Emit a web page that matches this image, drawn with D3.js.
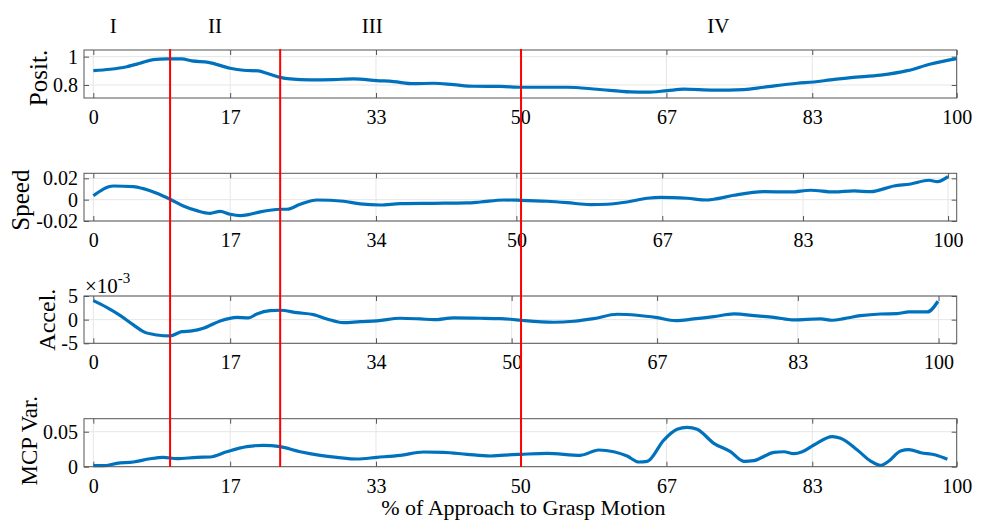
<!DOCTYPE html>
<html>
<head>
<meta charset="utf-8">
<script src="https://cdn.jsdelivr.net/npm/d3@7"></script>
<style>
  body { margin: 0; background: #fff; }
  text { font-family: "Liberation Serif", "Times New Roman", serif; fill: #000; }
</style>
</head>
<body>
<svg id="chart" width="985" height="520"></svg>
<script>
'use strict';

// ---- data (x in % of motion) ----
var posX = [0, 1.94, 3.87, 5.41, 6.95, 8.51, 10.25, 11.41, 13.33, 15.85, 17.39, 19.13, 20.10, 21.64, 22.80, 25.12, 27.82, 30.14, 32.85, 34.77, 37.09, 39.41, 41.73, 44.05, 47.14, 49.54, 54.87, 58.35, 62.21, 64.15, 66.47, 68.39, 71.87, 75.35, 77.66, 81.53, 83.46, 85.40, 87.75, 91.19, 94.28, 96.99, 100];
var posY = [0.901, 0.911, 0.929, 0.953, 0.979, 0.984, 0.984, 0.970, 0.960, 0.918, 0.904, 0.899, 0.883, 0.854, 0.843, 0.836, 0.838, 0.843, 0.831, 0.824, 0.809, 0.812, 0.802, 0.791, 0.790, 0.784, 0.784, 0.770, 0.751, 0.749, 0.760, 0.770, 0.763, 0.767, 0.784, 0.812, 0.821, 0.836, 0.852, 0.869, 0.901, 0.948, 0.986];

var speedX = [0, 2.32, 4.64, 5.80, 7.35, 8.89, 10.43, 11.99, 13.53, 14.69, 15.85, 17.00, 18.16, 19.32, 21.64, 22.42, 23.96, 25.90, 28.98, 30.91, 33.23, 35.55, 39.41, 43.28, 44.82, 47.53, 49.46, 52.56, 54.87, 57.57, 59.51, 61.83, 64.15, 65.69, 68.78, 71.10, 71.87, 74.19, 77.66, 80.76, 83.08, 85.78, 88.10, 90.03, 92.73, 94.67, 96.79, 97.76, 98.99];
var speedY = [0.0037, 0.0128, 0.0122, 0.0103, 0.0060, 0.0004, -0.0059, -0.0103, -0.0128, -0.0109, -0.0137, -0.0150, -0.0137, -0.0115, -0.0090, -0.0090, -0.0043, -0.0003, -0.0015, -0.0040, -0.0050, -0.0037, -0.0034, -0.0031, -0.0022, -0.0003, -0.0006, -0.0015, -0.0028, -0.0047, -0.0043, -0.0022, 0.0013, 0.0022, 0.0013, -0.0003, 0.0004, 0.0041, 0.0075, 0.0072, 0.0088, 0.0072, 0.0082, 0.0075, 0.0128, 0.0147, 0.0182, 0.0169, 0.0216];

// acceleration in units of 1e-3
var accelX = [0, 1.55, 3.09, 4.64, 5.80, 7.35, 8.89, 10.25, 11.41, 12.75, 14.69, 16.62, 17.97, 18.94, 20.48, 21.64, 23.58, 25.50, 27.05, 28.98, 30.91, 32.85, 35.55, 37.87, 39.41, 41.73, 44.82, 47.14, 48.30, 49.54, 53.32, 55.64, 57.96, 60.67, 62.99, 65.31, 67.43, 69.55, 71.87, 74.19, 76.90, 78.82, 81.14, 84.24, 85.59, 86.94, 88.87, 91.19, 93.12, 94.47, 96.60, 97.83];
var accelY = [4.02, 2.6, 0.9, -1.1, -2.54, -3.24, -3.45, -2.54, -2.39, -1.82, -0.27, 0.5, 0.36, 1.2, 1.9, 1.99, 1.48, 1.06, 0.15, -0.63, -0.42, -0.27, 0.3, 0.15, 0, 0.36, 0.3, 0.21, 0.08, -0.13, -0.55, -0.34, 0.21, 1.14, 0.93, 0.42, -0.21, 0.15, 0.63, 1.2, 0.78, 0.5, -0.06, 0.15, -0.13, 0.21, 0.85, 1.2, 1.27, 1.63, 1.63, 3.89];

var mcpX = [0, 1.16, 2.71, 4.64, 6.57, 8.11, 9.67, 11.99, 13.53, 15.46, 17.78, 19.71, 21.64, 23.96, 26.28, 28.21, 30.53, 32.85, 35.55, 38.25, 40.57, 43.28, 45.98, 47.14, 49.54, 52.56, 56.41, 58.53, 60.28, 61.83, 63.18, 64.15, 66.08, 67.62, 68.78, 69.94, 71.87, 73.80, 75.35, 76.50, 78.82, 79.98, 81.14, 82.11, 83.46, 85.59, 86.55, 88.49, 90.03, 91.19, 92.15, 93.50, 94.47, 95.83, 97.57, 98.92];
var mcpY = [0.0014, 0.0014, 0.0048, 0.0067, 0.0114, 0.0134, 0.0114, 0.0134, 0.0139, 0.0214, 0.0286, 0.0306, 0.0286, 0.0214, 0.0163, 0.0134, 0.0110, 0.0134, 0.0163, 0.0210, 0.0206, 0.0177, 0.0153, 0.0163, 0.0177, 0.0190, 0.0163, 0.0239, 0.0214, 0.0153, 0.0067, 0.0077, 0.0381, 0.0534, 0.0563, 0.0534, 0.0334, 0.0214, 0.0077, 0.0086, 0.0206, 0.0214, 0.0186, 0.0214, 0.0310, 0.0429, 0.0406, 0.0239, 0.0081, 0.0020, 0.0081, 0.0224, 0.0243, 0.0200, 0.0167, 0.0106];

// x tick positions and their printed labels, per panel
var posTicks = [0, 15.85, 32.74, 49.46, 66.38, 83.27, 100];
var posTickLabels = ['0', '17', '33', '50', '67', '83', '100'];
var speedTicks = [0, 15.85, 32.74, 49.0, 65.9, 82.2, 99.0];
var speedTickLabels = ['0', '17', '34', '50', '67', '83', '100'];
var accelTicks = [0, 15.85, 32.74, 48.45, 65.3, 81.6, 97.9];
var accelTickLabels = ['0', '17', '34', '50', '67', '83', '100'];
var mcpTicks = [0, 15.85, 32.74, 49.46, 66.38, 83.27, 100];
var mcpTickLabels = ['0', '17', '33', '50', '67', '83', '100'];

// y ticks
var posYTicks = [0.8, 1];
var posYLabels = ['0.8', '1'];
var speedYTicks = [-0.02, 0, 0.02];
var speedYLabels = ['-0.02', '0', '0.02'];
var accelYTicks = [-5, 0, 5];
var accelYLabels = ['-5', '0', '5'];
var mcpYTicks = [0, 0.05];
var mcpYLabels = ['0', '0.05'];

// phases
var phaseNames = ['I', 'II', 'III', 'IV'];
var phaseLabelX = [2.3, 14.1, 32.3, 72.4];
var phaseBounds = [8.89, 21.64, 49.54];

(function () {
  var svg = d3.select('#chart');
  var left = 84, right = 956.7;
  var blue = '#0072BD';
  var boxColor = '#555';

  var x = d3.scaleLinear().domain([-1.08, 100]).range([left, right]);

  var panels = [
    { xs: posX, ys: posY, top: 50, bottom: 98, dom: [0.708, 1.047], xt: posTicks, xl: posTickLabels, yt: posYTicks, yl: posYLabels, name: 'Posit.', labX: 47, labDy: 4, labSize: 25 },
    { xs: speedX, ys: speedY, top: 173.3, bottom: 221, dom: [-0.02, 0.0247], xt: speedTicks, xl: speedTickLabels, yt: speedYTicks, yl: speedYLabels, name: 'Speed', labX: 29, labDy: 3, labSize: 25 },
    { xs: accelX, ys: accelY, top: 296, bottom: 343.3, dom: [-5, 5], xt: accelTicks, xl: accelTickLabels, yt: accelYTicks, yl: accelYLabels, name: 'Accel.', labX: 55, labDy: 0, labSize: 24 },
    { xs: mcpX, ys: mcpY, top: 418.7, bottom: 466.7, dom: [0, 0.0686], xt: mcpTicks, xl: mcpTickLabels, yt: mcpYTicks, yl: mcpYLabels, name: 'MCP Var.', labX: 37, labDy: -2, labSize: 23 }
  ];

  panels.forEach(function (p) {
    var y = d3.scaleLinear().domain(p.dom).range([p.bottom, p.top]);
    var g = svg.append('g');

    // grid
    g.selectAll('.gx').data(p.xt).enter().append('line')
        .attr('x1', function (d) { return x(d); })
        .attr('x2', function (d) { return x(d); })
        .attr('y1', p.top).attr('y2', p.bottom)
        .style('stroke', '#e6e6e6').style('stroke-width', 1);
    g.selectAll('.gy').data(p.yt).enter().append('line')
        .attr('x1', left).attr('x2', right)
        .attr('y1', function (d) { return y(d); })
        .attr('y2', function (d) { return y(d); })
        .style('stroke', '#e6e6e6').style('stroke-width', 1);

    // axes with inward ticks
    var fmtX = function (d, i) { return p.xl[i]; };
    var fmtY = function (d, i) { return p.yl[i]; };
    var axB = g.append('g').attr('transform', 'translate(0,' + p.bottom + ')')
        .call(d3.axisBottom(x).tickValues(p.xt).tickFormat(fmtX).tickSizeInner(-5).tickSizeOuter(0).tickPadding(12));
    var axT = g.append('g').attr('transform', 'translate(0,' + p.top + ')')
        .call(d3.axisTop(x).tickValues(p.xt).tickFormat('').tickSizeInner(-5).tickSizeOuter(0));
    var axL = g.append('g').attr('transform', 'translate(' + left + ',0)')
        .call(d3.axisLeft(y).tickValues(p.yt).tickFormat(fmtY).tickSizeInner(-5).tickSizeOuter(0).tickPadding(6));
    var axR = g.append('g').attr('transform', 'translate(' + right + ',0)')
        .call(d3.axisRight(y).tickValues(p.yt).tickFormat('').tickSizeInner(-5).tickSizeOuter(0));
    [axB, axT, axL, axR].forEach(function (a) {
      a.attr('font-family', null).attr('font-size', null);
      a.select('.domain').remove();
      a.selectAll('.tick line').style('stroke', boxColor);
      a.selectAll('.tick text').style('font-size', '20px');
    });

    // series
    var line = d3.line()
        .x(function (d) { return x(d[0]); })
        .y(function (d) { return y(d[1]); })
        .curve(d3.curveMonotoneX);
    g.append('path')
        .datum(d3.zip(p.xs, p.ys))
        .attr('d', line)
        .style('fill', 'none')
        .style('stroke', blue)
        .style('stroke-width', 3.2)
        .style('stroke-linejoin', 'round');

    // box
    g.append('rect')
        .attr('x', left).attr('y', p.top)
        .attr('width', right - left).attr('height', p.bottom - p.top)
        .style('fill', 'none').style('stroke', boxColor).style('stroke-width', 1);

    // y label
    g.append('text')
        .attr('transform', 'translate(' + p.labX + ',' + ((p.top + p.bottom) / 2 + p.labDy) + ') rotate(-90)')
        .attr('text-anchor', 'middle')
        .style('font-size', p.labSize + 'px')
        .text(p.name);
  });

  // exponent for acceleration
  var ex = svg.append('text').attr('x', 85).attr('y', 293).style('font-size', '21px');
  ex.append('tspan').text('\u00d710');
  ex.append('tspan').attr('dy', -10).style('font-size', '15px').text('-3');

  // phase boundaries
  svg.selectAll('.phase').data(phaseBounds).enter().append('line')
      .attr('x1', function (d) { return x(d); })
      .attr('x2', function (d) { return x(d); })
      .attr('y1', 49).attr('y2', 467)
      .style('stroke', '#ff0000').style('stroke-width', 2);

  svg.selectAll('.pname').data(phaseNames).enter().append('text')
      .attr('x', function (d, i) { return x(phaseLabelX[i]); })
      .attr('y', 33)
      .attr('text-anchor', 'middle')
      .style('font-size', '21px')
      .text(function (d) { return d; });

  svg.append('text')
      .attr('x', (left + right) / 2 + 3)
      .attr('y', 515)
      .attr('text-anchor', 'middle')
      .style('font-size', '22px')
      .text('% of Approach to Grasp Motion');
})();
</script>
</body>
</html>
